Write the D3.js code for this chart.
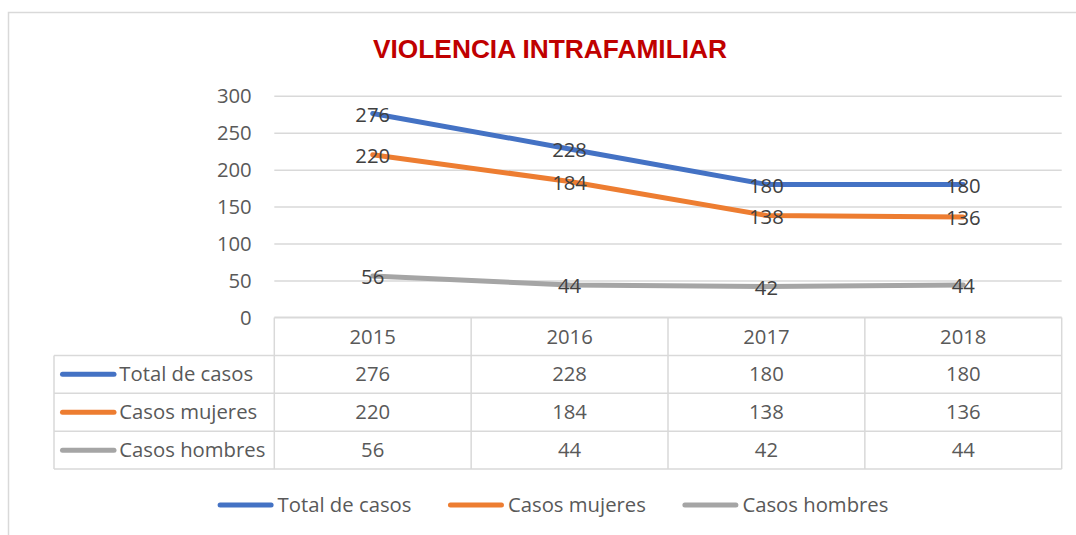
<!DOCTYPE html>
<html>
<head>
<meta charset="utf-8">
<script src="https://cdn.jsdelivr.net/npm/d3@7/dist/d3.min.js"></script>
<style>
  html, body { margin: 0; padding: 0; background: #ffffff; }
  svg { display: block; }
</style>
</head>
<body>
<svg id="chart" width="1076" height="535"></svg>
<script>
// ---- data ----
const years = ["2015", "2016", "2017", "2018"];
const seriesNames = ["Total de casos", "Casos mujeres", "Casos hombres"];
const totalCasos = [276, 228, 180, 180];
const casosMujeres = [220, 184, 138, 136];
const casosHombres = [56, 44, 42, 44];
const yTicks = [0, 50, 100, 150, 200, 250, 300];
const seriesColors = ["#4472C4", "#ED7D31", "#A5A5A5"];
const chartTitle = "VIOLENCIA INTRAFAMILIAR";

const seriesValues = [totalCasos, casosMujeres, casosHombres];
const series = seriesNames.map((name, i) => ({ name, values: seriesValues[i], color: seriesColors[i] }));

// ---- layout ----
const W = 1076, H = 535;
const plotLeft = 274.3, plotRight = 1061.7, plotTop = 95.7, plotBottom = 317.5;
const tableLeft = 54;
const rowH = 37.9;
const font = "'Open Sans', Lato, sans-serif";
const fs = 20.3;
const textGray = "#595959";
const gridGray = "#D9D9D9";

const svg = d3.select("#chart");

// outer frame (continues past right and bottom edges)
svg.append("rect")
  .attr("x", 8.5).attr("y", 12.5)
  .attr("width", W + 20).attr("height", H + 20)
  .attr("fill", "#fff").attr("stroke", gridGray).attr("stroke-width", 1.5);

// title
svg.append("text")
  .attr("x", 550).attr("y", 58.3)
  .attr("text-anchor", "middle")
  .attr("font-family", "'Liberation Sans', Arial, sans-serif")
  .attr("font-weight", "bold")
  .attr("font-size", 26.3)
  .attr("fill", "#C00000")
  .text(chartTitle);

// scales
const x = d3.scaleBand().domain(years).range([plotLeft, plotRight]).paddingInner(0).paddingOuter(0);
const y = d3.scaleLinear().domain([0, 300]).range([plotBottom, plotTop]);
const cx = d => x(d) + x.bandwidth() / 2;

// gridlines + y axis
const yAxis = d3.axisLeft(y).tickValues(yTicks).tickSize(0).tickPadding(0);
const gy = svg.append("g").attr("transform", `translate(${plotLeft},0)`).call(yAxis);
gy.select(".domain").remove();
gy.selectAll(".tick text")
  .attr("x", -22.6)
  .attr("dy", "0.35em")
  .attr("font-family", font).attr("font-size", fs).attr("fill", textGray);
gy.selectAll(".tick").filter(d => d !== 0)
  .append("line")
  .attr("x1", 0).attr("x2", plotRight - plotLeft)
  .attr("stroke", gridGray).attr("stroke-width", 1.5);

// data table grid
const tg = svg.append("g");
const rowsY = d3.range(0, seriesNames.length + 2).map(i => plotBottom + i * rowH);
// header row top (axis line) across plot area
tg.append("line").attr("x1", plotLeft).attr("x2", plotRight)
  .attr("y1", plotBottom).attr("y2", plotBottom)
  .attr("stroke", gridGray).attr("stroke-width", 1.8);
// series row lines across full table
rowsY.slice(1).forEach(yy => {
  tg.append("line").attr("x1", tableLeft).attr("x2", plotRight)
    .attr("y1", yy).attr("y2", yy)
    .attr("stroke", gridGray).attr("stroke-width", 1.5);
});
// column lines
years.forEach(yr => {
  tg.append("line").attr("x1", x(yr)).attr("x2", x(yr))
    .attr("y1", plotBottom).attr("y2", rowsY[rowsY.length - 1])
    .attr("stroke", gridGray).attr("stroke-width", 1.5);
});
tg.append("line").attr("x1", plotRight).attr("x2", plotRight)
  .attr("y1", plotBottom).attr("y2", rowsY[rowsY.length - 1])
  .attr("stroke", gridGray).attr("stroke-width", 1.5);
tg.append("line").attr("x1", tableLeft).attr("x2", tableLeft)
  .attr("y1", rowsY[1]).attr("y2", rowsY[rowsY.length - 1])
  .attr("stroke", gridGray).attr("stroke-width", 1.5);

// header years
tg.selectAll("text.year").data(years).join("text")
  .attr("class", "year")
  .attr("x", d => cx(d)).attr("y", (rowsY[0] + rowsY[1]) / 2)
  .attr("dy", "0.35em").attr("text-anchor", "middle")
  .attr("font-family", font).attr("font-size", fs).attr("fill", textGray)
  .text(d => d);

// series rows
series.forEach((s, i) => {
  const yc = (rowsY[i + 1] + rowsY[i + 2]) / 2;
  tg.append("line").attr("x1", 62.5).attr("x2", 114)
    .attr("y1", yc).attr("y2", yc)
    .attr("stroke", s.color).attr("stroke-width", 5).attr("stroke-linecap", "round");
  tg.append("text").attr("x", 119.3).attr("y", yc).attr("dy", "0.35em")
    .attr("font-family", font).attr("font-size", fs).attr("fill", textGray)
    .text(s.name);
  tg.selectAll(null).data(s.values).join("text")
    .attr("x", (d, j) => cx(years[j])).attr("y", yc).attr("dy", "0.35em")
    .attr("text-anchor", "middle")
    .attr("font-family", font).attr("font-size", fs).attr("fill", textGray)
    .text(d => d);
});

// lines
const line = d3.line().x((d, j) => cx(years[j])).y(d => y(d));
series.forEach(s => {
  svg.append("path").datum(s.values)
    .attr("d", line)
    .attr("fill", "none").attr("stroke", s.color)
    .attr("stroke-width", 5).attr("stroke-linejoin", "round").attr("stroke-linecap", "round");
});
// data labels (centered on points)
series.forEach(s => {
  svg.selectAll(null).data(s.values).join("text")
    .attr("x", (d, j) => cx(years[j])).attr("y", d => y(d) + 1)
    .attr("dy", "0.35em").attr("text-anchor", "middle")
    .attr("font-family", font).attr("font-size", fs).attr("fill", "#404040")
    .text(d => d);
});

// bottom legend
const lg = svg.append("g");
const keyLen = 56, keyGap = 4, itemGap = 36.5;
const widths = [];
const tmp = lg.append("text").attr("font-family", font).attr("font-size", fs);
series.forEach(s => { tmp.text(s.name); widths.push(tmp.node().getComputedTextLength()); });
tmp.remove();
const totalW = d3.sum(widths) + series.length * (keyLen + keyGap) + (series.length - 1) * itemGap;
let lx = 553 - totalW / 2;
const ly = 505;
series.forEach((s, i) => {
  lg.append("line").attr("x1", lx + 2.5).attr("x2", lx + keyLen - 2.5)
    .attr("y1", ly).attr("y2", ly)
    .attr("stroke", s.color).attr("stroke-width", 5).attr("stroke-linecap", "round");
  lg.append("text").attr("x", lx + keyLen + keyGap).attr("y", ly).attr("dy", "0.35em")
    .attr("font-family", font).attr("font-size", fs).attr("fill", textGray)
    .text(s.name);
  lx += keyLen + keyGap + widths[i] + itemGap;
});
</script>
</body>
</html>
